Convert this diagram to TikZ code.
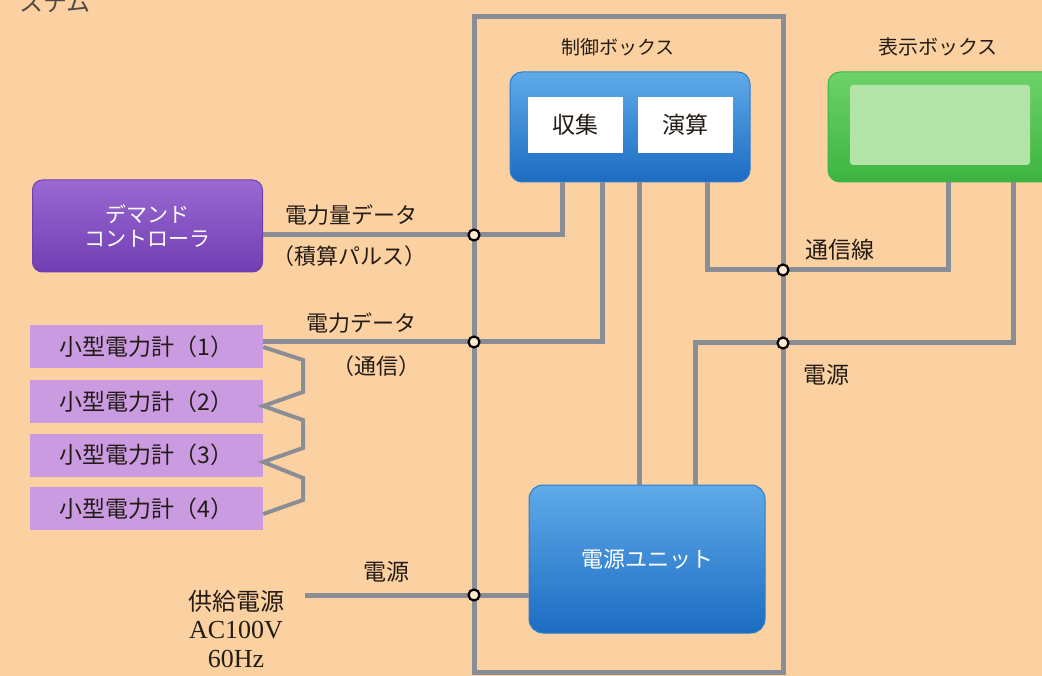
\documentclass[tikz,border=0pt]{standalone}
\usepackage{fontspec}
\setmainfont{Noto Sans CJK JP}
\newfontfamily\latinserif{Liberation Serif}
\definecolor{bg}{RGB}{252,209,161}
\definecolor{wirec}{RGB}{138,141,150}
\definecolor{ink}{RGB}{35,28,22}
\definecolor{blueA}{RGB}{95,170,232}
\definecolor{blueB}{RGB}{28,108,195}
\definecolor{blueEdge}{RGB}{45,125,205}
\definecolor{purA}{RGB}{155,105,210}
\definecolor{purB}{RGB}{112,62,178}
\definecolor{meterc}{RGB}{202,155,225}
\definecolor{grnA}{RGB}{110,210,105}
\definecolor{grnB}{RGB}{60,180,65}
\definecolor{grnC}{RGB}{178,228,168}
\newcommand{\fs}[1]{\fontsize{#1}{#1}\selectfont}
\tikzset{
  wire/.style={draw=wirec, line width=5pt},
  frame/.style={draw=wirec, line width=5pt, inner sep=0pt},
  junction/.style={circle, draw=black, line width=2.2pt, fill=bg!50!white, minimum size=11pt, inner sep=0pt},
  bluebox/.style={rounded corners=12pt, top color=blueA, bottom color=blueB, draw=blueEdge, line width=1pt, inner sep=0pt},
  whitebox/.style={fill=white, minimum width=95pt, minimum height=56pt, inner sep=0pt, font=\fs{23}, text=ink},
  greenbox/.style={rounded corners=12pt, top color=grnA, bottom color=grnB, draw=grnB, line width=1pt, inner sep=0pt},
  purbox/.style={rounded corners=10pt, top color=purA, bottom color=purB, draw=purB, line width=1pt, inner sep=0pt, text=white, align=center, font=\fs{21}},
  meterbox/.style={fill=meterc, minimum width=233pt, minimum height=43pt, inner sep=0pt, text=ink, font=\fs{23}},
  lbl/.style={text=ink, inner sep=0pt}
}
\begin{document}
\begin{tikzpicture}[x=1pt,y=-1pt]
\fill[bg] (0,0) rectangle (1042,676);
\useasboundingbox (0,0) rectangle (1042,676);

% title fragment (cut at the top, as in the reference)
\node[lbl, font=\fs{24}, text=ink!80] (title) at (55,3) {ステム};

% control box frame
\node[frame, minimum width=309pt, minimum height=655pt] (ctrl) at (628.5,344.5) {};
\node[lbl, font=\fs{19}] (ctrllbl) at (618,47) {制御ボックス};

% control unit
\node[bluebox, minimum width=240pt, minimum height=110pt] (cb) at (630,127) {};
\node[whitebox] (shu) at (575.5,125) {収集};
\node[whitebox] (enz) at (685.5,125) {演算};

% display box
\node[greenbox, minimum width=232pt, minimum height=110pt] (disp) at (944,127) {};
\fill[grnC, rounded corners=3pt] (850,85) rectangle (1030,165);
\node[lbl, font=\fs{20}] (displbl) at (938,47) {表示ボックス};

% power unit
\node[bluebox, rounded corners=14pt, minimum width=236pt, minimum height=148pt, text=white, font=\fs{22}] (pu) at (647,559) {電源ユニット};

% demand controller
\node[purbox, minimum width=230pt, minimum height=92pt] (dc) at (147.5,226) {デマンド\\[3pt]コントローラ};

% meters
\node[meterbox] (m1) at (146.5,346.5) {小型電力計（1）};
\node[meterbox] (m2) at (146.5,401.5) {小型電力計（2）};
\node[meterbox] (m3) at (146.5,455) {小型電力計（3）};
\node[meterbox] (m4) at (146.5,508.5) {小型電力計（4）};

% supply
\node[lbl, font=\fs{24}] (supply) at (236,601) {供給電源};
\node[lbl, font=\latinserif\fs{26}] (ac) at (236,630) {AC100V};
\node[lbl, font=\latinserif\fs{26}] (hz) at (236,659) {60Hz};

% coordinates
\coordinate (j1) at (474,235);
\coordinate (j2) at (474,342);
\coordinate (j3) at (474,595);
\coordinate (j4) at (783,270);
\coordinate (j5) at (783,343);
\coordinate (c1) at ([xshift=-68pt]cb.south);
\coordinate (c2) at ([xshift=-28pt]cb.south);
\coordinate (c3) at ([xshift=9pt]cb.south);
\coordinate (c4) at ([xshift=77pt]cb.south);
\coordinate (g1) at ([xshift=4pt]disp.south);
\coordinate (g2) at ([xshift=69pt]disp.south);
\coordinate (p2) at ([xshift=48pt]pu.north);
\coordinate (s0) at (305,595);

% wires
\draw[wire] (dc.east |- j1) -- (j1) -- (j1 -| c1) -- (c1);
\draw[wire] (m1.east |- j2) -- (j2) -- (j2 -| c2) -- (c2);
\draw[wire] (c3) -- (c3 |- pu.north);
\draw[wire] (c4) -- (c4 |- j4) -- (j4) -- (j4 -| g1) -- (g1);
\draw[wire] (p2) -- (p2 |- j5) -- (j5) -- (j5 -| g2) -- (g2);
\draw[wire] (s0) -- (j3) -- (pu.west |- j3);

% daisy chain of meters
\draw[wire, line width=4pt, line join=miter]
  (m1.east |- 0,347) -- (303,360) -- (303,392) -- (m2.east |- 0,406)
  -- (303,420) -- (303,448) -- (m3.east |- 0,462)
  -- (303,478) -- (303,500) -- (m4.east |- 0,514);

% junctions
\node[junction] (J1) at (j1) {};
\node[junction] (J2) at (j2) {};
\node[junction] (J3) at (j3) {};
\node[junction] (J4) at (j4) {};
\node[junction] (J5) at (j5) {};

% wire labels
\node[lbl, font=\fs{22}] (l1) at (351,215) {電力量データ};
\node[lbl, font=\fs{22}] (l2) at (349,256) {（積算パルス）};
\node[lbl, font=\fs{22}] (l3) at (361,323) {電力データ};
\node[lbl, font=\fs{22}] (l4) at (376,366) {（通信）};
\node[lbl, font=\fs{23}] (l5) at (840,250) {通信線};
\node[lbl, font=\fs{23}] (l6) at (826,375) {電源};
\node[lbl, font=\fs{23}] (l7) at (386,572) {電源};
\end{tikzpicture}
\end{document}
